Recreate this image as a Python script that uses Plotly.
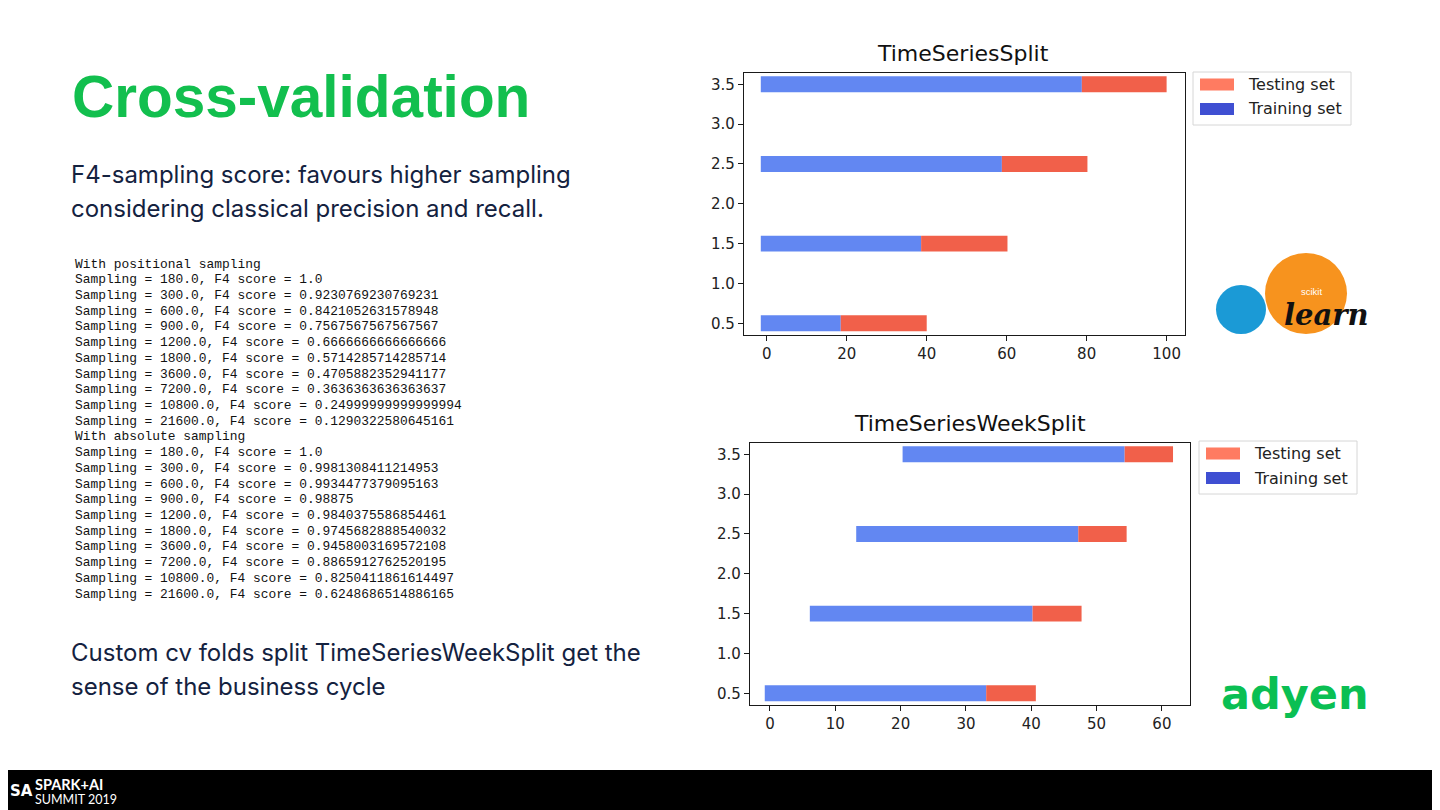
import plotly.graph_objects as go

# The page places the figure 8px from the top-left corner (body margin),
# so the figure is 1432x802 and page coordinates are shifted by 8px.
OFF = 8
W, H = 1440 - OFF, 810 - OFF


def px(x):
    return (x - OFF) / W


def py(y):
    return 1 - (y - OFF) / H

# ---------------- data ----------------
folds = [0.5, 1.5, 2.5, 3.5]

# TimeSeriesSplit
ts_train_start = [-1.5, -1.5, -1.5, -1.5]
ts_train_end = [18.5, 38.6, 58.8, 78.8]
ts_test_end = [40.0, 60.2, 80.2, 100.0]

# TimeSeriesWeekSplit
tw_train_start = [-0.8, 6.1, 13.2, 20.3]
tw_train_end = [33.1, 40.2, 47.2, 54.3]
tw_test_end = [40.7, 47.7, 54.6, 61.7]

ts_xticks = [0, 20, 40, 60, 80, 100]
tw_xticks = [0, 10, 20, 30, 40, 50, 60]
yticks = [0.5, 1.0, 1.5, 2.0, 2.5, 3.0, 3.5]

legend_labels = ["Testing set", "Training set"]

code_lines = [
    "With positional sampling",
    "Sampling = 180.0, F4 score = 1.0",
    "Sampling = 300.0, F4 score = 0.9230769230769231",
    "Sampling = 600.0, F4 score = 0.8421052631578948",
    "Sampling = 900.0, F4 score = 0.7567567567567567",
    "Sampling = 1200.0, F4 score = 0.6666666666666666",
    "Sampling = 1800.0, F4 score = 0.5714285714285714",
    "Sampling = 3600.0, F4 score = 0.4705882352941177",
    "Sampling = 7200.0, F4 score = 0.3636363636363637",
    "Sampling = 10800.0, F4 score = 0.24999999999999994",
    "Sampling = 21600.0, F4 score = 0.1290322580645161",
    "With absolute sampling",
    "Sampling = 180.0, F4 score = 1.0",
    "Sampling = 300.0, F4 score = 0.9981308411214953",
    "Sampling = 600.0, F4 score = 0.9934477379095163",
    "Sampling = 900.0, F4 score = 0.98875",
    "Sampling = 1200.0, F4 score = 0.9840375586854461",
    "Sampling = 1800.0, F4 score = 0.9745682888540032",
    "Sampling = 3600.0, F4 score = 0.9458003169572108",
    "Sampling = 7200.0, F4 score = 0.8865912762520195",
    "Sampling = 10800.0, F4 score = 0.8250411861614497",
    "Sampling = 21600.0, F4 score = 0.6248686514886165",
]

# ---------------- styles ----------------
BLUE = "#6287f2"
RED = "#f1604a"
LEG_RED = "#ff7b61"
LEG_BLUE = "#3f4fd2"
GREEN = "#12bf4e"
NAVY = "#14223f"
MPL_FONT = "DejaVu Sans"
SLIDE_FONT = "Inter"

fig = go.Figure()


def add_split(xa, ya, starts, train_end, test_end):
    fig.add_trace(go.Bar(
        orientation="h", y=folds,
        x=[e - s for s, e in zip(starts, train_end)], base=starts,
        width=0.2, marker=dict(color=BLUE, line=dict(width=0)),
        xaxis=xa, yaxis=ya, showlegend=False, hoverinfo="skip"))
    fig.add_trace(go.Bar(
        orientation="h", y=folds,
        x=[t - e for e, t in zip(train_end, test_end)], base=train_end,
        width=0.2, marker=dict(color=RED, line=dict(width=0)),
        xaxis=xa, yaxis=ya, showlegend=False, hoverinfo="skip"))


add_split("x", "y", ts_train_start, ts_train_end, ts_test_end)
add_split("x2", "y2", tw_train_start, tw_train_end, tw_test_end)

axis_common = dict(showline=True, linecolor="#1a1a1a", linewidth=1.3, mirror=True,
                   ticks="outside", ticklen=5, tickwidth=1.2, tickcolor="#1a1a1a",
                   showgrid=False, zeroline=False,
                   tickfont=dict(family=MPL_FONT, size=15, color="#222222"))

fig.update_layout(
    width=W, height=H,
    margin=dict(l=0, r=0, t=0, b=0),
    paper_bgcolor="white", plot_bgcolor="white",
    barmode="overlay", showlegend=False,
    xaxis=dict(domain=[px(744), px(1185)], range=[-5.7, 104.6], anchor="y",
               tickvals=ts_xticks, **axis_common),
    yaxis=dict(domain=[py(335), py(72.7)], range=[0.353, 3.646], anchor="x",
               tickvals=yticks, tickformat=".1f", **axis_common),
    xaxis2=dict(domain=[px(750), px(1190)], range=[-3.06, 64.3], anchor="y2",
                tickvals=tw_xticks, **axis_common),
    yaxis2=dict(domain=[py(705), py(442.7)], range=[0.353, 3.646], anchor="x2",
                tickvals=yticks, tickformat=".1f", **axis_common),
)

shapes = []
ann = []

# chart titles
ann.append(dict(x=px(963), y=py(53), text="TimeSeriesSplit", showarrow=False,
                xanchor="center", yanchor="middle",
                font=dict(family=MPL_FONT, size=22, color="#111111")))
ann.append(dict(x=px(970), y=py(423), text="TimeSeriesWeekSplit", showarrow=False,
                xanchor="center", yanchor="middle",
                font=dict(family=MPL_FONT, size=22, color="#111111")))


def add_legend(x0, y0):
    shapes.append(dict(type="rect", xref="paper", yref="paper",
                       x0=px(x0), x1=px(x0 + 158), y0=py(y0), y1=py(y0 + 53),
                       line=dict(color="#d6d6d6", width=1), fillcolor="white"))
    for i, (lab, col) in enumerate(zip(legend_labels, [LEG_RED, LEG_BLUE])):
        cy = y0 + 12.5 + i * 24.5
        shapes.append(dict(type="rect", xref="paper", yref="paper",
                           x0=px(x0 + 7), x1=px(x0 + 41), y0=py(cy - 6), y1=py(cy + 6),
                           line=dict(width=0), fillcolor=col))
        ann.append(dict(x=px(x0 + 53), y=py(cy), text=lab, showarrow=False,
                        xanchor="left", yanchor="middle",
                        font=dict(family=MPL_FONT, size=16, color="#222222")))


add_legend(1193, 72)
add_legend(1199, 441)

# slide title & text
ann.append(dict(x=px(70), y=py(96), text="<b>Cross-validation</b>", showarrow=False,
                xanchor="left", yanchor="middle",
                font=dict(family="Liberation Sans", size=58.5, color=GREEN)))
body_font = dict(family=SLIDE_FONT, size=24, color=NAVY)
for txt, yy in [("F4-sampling score: favours higher sampling", 174),
                ("considering classical precision and recall.", 208),
                ("Custom cv folds split TimeSeriesWeekSplit get the", 652),
                ("sense of the business cycle", 686)]:
    ann.append(dict(x=px(69), y=py(yy), text=txt, showarrow=False,
                    xanchor="left", yanchor="middle", font=body_font))

for i, line in enumerate(code_lines):
    ann.append(dict(x=px(73), y=py(264 + 15.72 * i), text=line, showarrow=False,
                    xanchor="left", yanchor="middle",
                    font=dict(family="Liberation Mono", size=12.9, color="#111111")))

# scikit-learn logo
shapes.append(dict(type="circle", xref="paper", yref="paper",
                   x0=px(1216), x1=px(1266), y0=py(334), y1=py(285),
                   line=dict(width=0), fillcolor="#1b9ad6"))
shapes.append(dict(type="circle", xref="paper", yref="paper",
                   x0=px(1265), x1=px(1347), y0=py(334), y1=py(253),
                   line=dict(width=0), fillcolor="#f7931e"))
ann.append(dict(x=px(1311), y=py(292), text="scikit", showarrow=False,
                xanchor="center", yanchor="middle",
                font=dict(family="Liberation Sans", size=9.5, color="white")))
ann.append(dict(x=px(1326), y=py(315), text="<b><i>learn</i></b>", showarrow=False,
                xanchor="center", yanchor="middle",
                font=dict(family="DejaVu Serif", size=29, color="#111111")))

# adyen logo
ann.append(dict(x=px(1295), y=py(694), text="<b>adyen</b>", showarrow=False,
                xanchor="center", yanchor="middle",
                font=dict(family="DejaVu Sans", size=43, color="#0abf53")))

# footer band
shapes.append(dict(type="rect", xref="paper", yref="paper", x0=0, x1=1,
                   y0=0, y1=py(770), line=dict(width=0), fillcolor="black", layer="above"))
ann.append(dict(x=px(8), y=py(791), text="<b>SA</b>", showarrow=False,
                xanchor="left", yanchor="middle",
                font=dict(family="DejaVu Sans", size=15, color="white")))
ann.append(dict(x=px(33), y=py(784), text="<b>SPARK+AI</b>", showarrow=False,
                xanchor="left", yanchor="middle",
                font=dict(family="Lato", size=14.5, color="white")))
ann.append(dict(x=px(33), y=py(799), text="SUMMIT 2019", showarrow=False,
                xanchor="left", yanchor="middle",
                font=dict(family="Lato", size=12.5, color="white")))

for a in ann:
    a.setdefault("xref", "paper")
    a.setdefault("yref", "paper")

fig.update_layout(shapes=shapes, annotations=ann)
fig.write_html("out.html")
